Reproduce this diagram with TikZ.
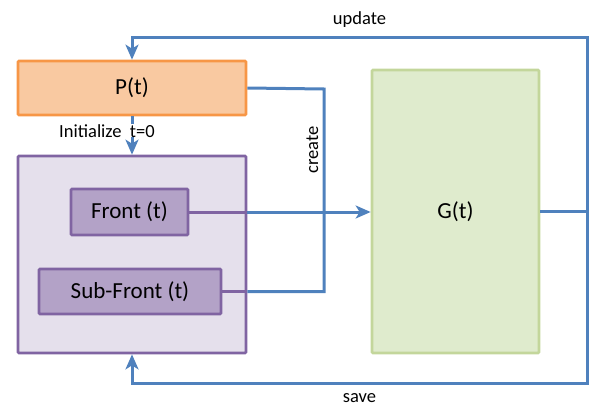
\documentclass[tikz,border=0pt]{standalone}
\usepackage{fontspec}
\setmainfont{Carlito}
\usepackage{xcolor}
\usepackage{tikz}
\usetikzlibrary{arrows.meta}

\definecolor{flowblue}{HTML}{4F81BD}
\definecolor{popline}{HTML}{8064A2}
\definecolor{popfill}{HTML}{E5E0EC}
\definecolor{frontfill}{HTML}{B3A2C7}
\definecolor{pline}{HTML}{F79646}
\definecolor{pfill}{HTML}{F9C9A1}
\definecolor{gline}{HTML}{C3D69B}
\definecolor{gfill}{HTML}{DFEBCD}

\begin{document}
\begin{tikzpicture}[x=1pt,y=-1pt,
    box/.style={draw, line width=2.7pt, rounded corners=1pt, inner sep=0pt,
                font=\fontsize{23}{27}\selectfont},
    flow/.style={flowblue, line width=3pt},
    tip/.style={-{Stealth[length=15pt,width=13pt,inset=4pt]}},
    lbl/.style={font=\fontsize{18.5}{22}\selectfont, text=black}]
    \useasboundingbox (0,0) rectangle (592,407);

    % boxes
    \node[box, draw=pline, fill=pfill, minimum width=228, minimum height=54] (pbox) at (132,88) {P(t)};
    \node[box, draw=popline, fill=popfill, minimum width=228, minimum height=197] (popbox) at (132,254.5) {};
    \node[box, draw=popline, fill=frontfill, minimum width=117, minimum height=46] (front) at (129.5,212) {Front (t)};
    \node[box, draw=popline, fill=frontfill, minimum width=182, minimum height=45] (subfront) at (130,291.5) {Sub-Front (t)};
    \node[box, draw=gline, fill=gfill, minimum width=167, minimum height=283] (gbox) at (455.5,211.5) {G(t)};

    % corners of the loops
    \coordinate (upd) at (587,37);
    \coordinate (sav) at (587,383);
    \coordinate (cr) at (324,89);

    % init
    \draw[flow, tip] (pbox) -- node[lbl, pos=0.38, fill=white, inner sep=0pt, xshift=-25pt] {Initialize\ \ t=0} (popbox);

    % front -> G
    \draw[popline, line width=3pt] (front.east) -- (front.east -| popbox.east);
    \draw[flow, tip] (front.east -| popbox.east) -- (front.east -| gbox.west);

    % create
    \draw[popline, line width=3pt] (subfront.east) -- (subfront.east -| popbox.east);
    \draw[flow, line join=miter] (pbox.east) -- (cr) -- node[lbl, pos=0.3, rotate=90, above=1pt] {create} (cr |- subfront.east) -- (subfront.east -| popbox.east);

    % update / save
    \draw[flow, tip, line join=miter] (gbox.east) -| (upd) -- node[lbl, above=5pt] {update} (upd -| pbox.north) -- (pbox.north);
    \draw[flow, tip, line join=miter] (gbox.east) -| (sav) -- node[lbl, below=6pt] {save} (sav -| popbox.south) -- (popbox.south);
\end{tikzpicture}
\end{document}
